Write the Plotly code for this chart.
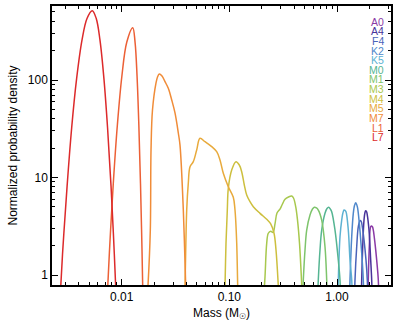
import plotly.graph_objects as go

# ---------------- data ----------------
names = ["A0", "A4", "F4", "K2", "K5", "M0", "M1", "M3", "M4", "M5", "M7", "L1", "L7"]
colors = ["#8a3aa6", "#48339a", "#4a63b9", "#4f88cb", "#5db2d3", "#55b592",
          "#7ec46c", "#a8c84e", "#cdbf3e", "#e8aa3c", "#f08c38", "#ec6036", "#dc2a2b"]

a0_mass = [1.9409, 1.9530, 1.9953, 2.0559, 2.1004, 2.1369, 2.1737, 2.2542, 2.3377, 2.4188, 2.4451]
a0_dens = [0.554, 0.888, 1.95, 3.13, 3.18, 3.11, 2.89, 2.11, 1.42, 0.888, 0.554]

a4_mass = [1.6817, 1.6960, 1.7326, 1.7816, 1.8202, 1.8477, 1.8793, 1.9120, 1.9824, 2.0559, 2.1004, 2.1232]
a4_dens = [0.554, 0.888, 1.95, 3.66, 4.38, 4.57, 4.48, 4.12, 2.89, 1.42, 0.888, 0.554]

f4_mass = [1.4542, 1.4697, 1.5241, 1.5774, 1.6358, 1.6781, 1.7179, 1.7816, 1.8596, 1.9120, 1.9324]
f4_dens = [0.554, 0.888, 1.95, 3.13, 3.61, 3.54, 3.13, 2.29, 1.42, 0.888, 0.554]

k2_mass = [1.3064, 1.3206, 1.3696, 1.4172, 1.4542, 1.4919, 1.5440, 1.6012, 1.6963, 1.7551, 1.7742]
k2_dens = [0.554, 0.888, 2.47, 4.29, 5.16, 5.51, 5.02, 3.66, 1.67, 0.888, 0.554]

k5_mass = [1.0172, 1.0283, 1.0663, 1.1058, 1.1340, 1.1614, 1.1865, 1.2121, 1.2735, 1.3206, 1.3696, 1.3872]
k5_dens = [0.554, 0.888, 2.47, 3.66, 4.32, 4.64, 4.61, 4.46, 2.89, 1.42, 0.888, 0.554]

m0_mass = [0.6590, 0.6703, 0.6951, 0.7209, 0.7736, 0.8074, 0.8374, 0.8666, 0.8928, 0.9581, 1.0283, 1.0663, 1.0824]
m0_dens = [0.554, 0.888, 1.805, 2.89, 4.29, 4.81, 4.95, 4.75, 4.46, 2.89, 1.42, 0.888, 0.554]

m1_mass = [0.4782, 0.4864, 0.5044, 0.5231, 0.5614, 0.5921, 0.6153, 0.6450, 0.6703, 0.7209, 0.7736, 0.8022, 0.8127]
m1_dens = [0.554, 0.888, 1.805, 2.89, 4.12, 4.75, 4.95, 4.87, 4.64, 3.66, 1.95, 0.888, 0.554]

m3_mass = [0.2076, 0.2144, 0.2223, 0.2300, 0.2422, 0.2544, 0.2655, 0.2771, 0.2954, 0.3083,
           0.3289, 0.3543, 0.3795, 0.3944, 0.4134, 0.4297, 0.4485, 0.4680, 0.4762]
m3_dens = [0.554, 0.961, 2.11, 2.68, 2.81, 2.73, 3.34, 4.32, 4.75, 5.22,
           5.98, 6.31, 6.46, 6.16, 5.02, 3.66, 2.11, 0.888, 0.554]

m4_mass = [0.09013, 0.09112, 0.09308, 0.09572, 0.09777, 0.10515, 0.11529, 0.12370, 0.13021, 0.13767,
           0.14492, 0.15550, 0.16694, 0.19262, 0.22233, 0.24218, 0.25997, 0.27129, 0.28497, 0.28927]
m4_dens = [0.554, 0.771, 2.13, 4.64, 7.75, 11.94, 14.53, 13.43, 11.47, 8.38,
           6.61, 5.65, 5.02, 4.29, 3.73, 3.34, 2.68, 1.805, 0.771, 0.554]

m5_mass = [0.03833, 0.03873, 0.04017, 0.04157, 0.04311, 0.04626, 0.04973, 0.05336, 0.05940, 0.06855,
           0.07629, 0.08185, 0.08785, 0.09777, 0.10882, 0.11285, 0.11703, 0.11956, 0.12083]
m5_dens = [0.554, 0.771, 4.64, 8.78, 12.9, 14.53, 19.15, 25.24, 23.29, 20.70,
           18.39, 15.12, 11.04, 8.05, 6.26, 4.64, 2.13, 0.771, 0.554]

m7_mass = [0.01718, 0.01755, 0.01844, 0.01872, 0.01932, 0.02083, 0.02151, 0.02235, 0.02368, 0.02525,
           0.02709, 0.02914, 0.03127, 0.03356, 0.03480, 0.03736, 0.03932, 0.03983]
m7_dens = [0.554, 0.78, 2.89, 19.15, 49.2, 93.2, 107.3, 115.2, 109.9, 96.1,
           82.2, 62.4, 45.9, 28.6, 21.5, 4.64, 0.78, 0.554]

l1_mass = [0.00716, 0.00769, 0.00835, 0.00911, 0.01003, 0.01114, 0.01266, 0.01331, 0.01389, 0.01443,
           0.01495, 0.01545, 0.01589]
l1_dens = [0.34, 1.72, 8.64, 34.4, 108.7, 243.5, 344.0, 243.5, 108.7, 34.4, 8.64, 1.72, 0.34]

l7_mass = [0.00260, 0.00282, 0.00311, 0.00343, 0.00381, 0.00428, 0.00476, 0.00533, 0.00580, 0.00628,
           0.00684, 0.00739, 0.00796, 0.00854, 0.00909]
l7_dens = [0.32, 1.63, 8.15, 32.4, 102.6, 257.6, 427.6, 514.0, 427.6, 257.6, 102.6, 32.4, 8.15, 1.63, 0.32]

x_tickvals = [0.01, 0.1, 1.0]
x_ticktext = ["0.01", "0.10", "1.00"]
x_minor = [0.003, 0.004, 0.005, 0.006, 0.007, 0.008, 0.009,
           0.02, 0.03, 0.04, 0.05, 0.06, 0.07, 0.08, 0.09,
           0.2, 0.3, 0.4, 0.5, 0.6, 0.7, 0.8, 0.9, 2.0, 3.0]
y_tickvals = [1, 10, 100]
y_ticktext = ["1", "10", "100"]
y_minor = [2, 3, 4, 5, 6, 7, 8, 9, 20, 30, 40, 50, 60, 70, 80, 90, 200, 300, 400, 500]

series = {
    "A0": (a0_mass, a0_dens), "A4": (a4_mass, a4_dens), "F4": (f4_mass, f4_dens),
    "K2": (k2_mass, k2_dens), "K5": (k5_mass, k5_dens), "M0": (m0_mass, m0_dens),
    "M1": (m1_mass, m1_dens), "M3": (m3_mass, m3_dens), "M4": (m4_mass, m4_dens),
    "M5": (m5_mass, m5_dens), "M7": (m7_mass, m7_dens), "L1": (l1_mass, l1_dens),
    "L7": (l7_mass, l7_dens),
}

# ---------------- figure ----------------
W, H = 406, 325
ML, MR, MT, MB = 52, 15, 6, 40
FONT = "Liberation Sans, Arial, Helvetica, sans-serif"

fig = go.Figure()
for name, col in zip(names, colors):
    mx, dy = series[name]
    fig.add_trace(go.Scatter(x=mx, y=dy, mode="lines", name=name,
                             line=dict(color=col, width=1.5, shape="spline"),
                             showlegend=False, hoverinfo="skip"))

# legend as coloured text labels
plot_h = H - MT - MB
plot_w = W - ML - MR
for i, (name, col) in enumerate(zip(names, colors)):
    yc = 21.7 + 9.63 * i
    fig.add_annotation(text=name, xref="paper", yref="paper",
                       x=(386 - ML) / plot_w, y=1 - (yc - MT) / plot_h,
                       xanchor="right", yanchor="middle", showarrow=False,
                       font=dict(family=FONT, size=10.5, color=col))

axis_common = dict(showline=True, linecolor="black", linewidth=1.5, mirror="allticks",
                   ticks="inside", ticklen=6, tickwidth=1, tickcolor="black",
                   showgrid=False, zeroline=False,
                   tickfont=dict(family=FONT, size=12, color="black"))

fig.update_xaxes(type="log", range=[-2.6475, 0.5016],
                 tickvals=x_tickvals, ticktext=x_ticktext,
                 minor=dict(tickvals=x_minor, ticks="inside", ticklen=3,
                            tickcolor="black", showgrid=False),
                 title=dict(text="Mass (M<sub>☉</sub>)", font=dict(family=FONT, size=12, color="black"),
                            standoff=5),
                 **axis_common)
fig.update_yaxes(type="log", range=[-0.1026, 2.759],
                 tickvals=y_tickvals, ticktext=y_ticktext,
                 minor=dict(tickvals=y_minor, ticks="inside", ticklen=3,
                            tickcolor="black", showgrid=False),
                 title=dict(text="Normalized probability density",
                            font=dict(family=FONT, size=12, color="black"), standoff=8),
                 **axis_common)

fig.update_layout(width=W, height=H, margin=dict(l=ML, r=MR, t=MT, b=MB, autoexpand=False),
                  plot_bgcolor="white", paper_bgcolor="white",
                  font=dict(family=FONT, size=12, color="black"))

fig.write_html("out.html", config={"displayModeBar": False},
               post_script="document.body.style.margin='0';document.body.style.overflow='hidden';")
